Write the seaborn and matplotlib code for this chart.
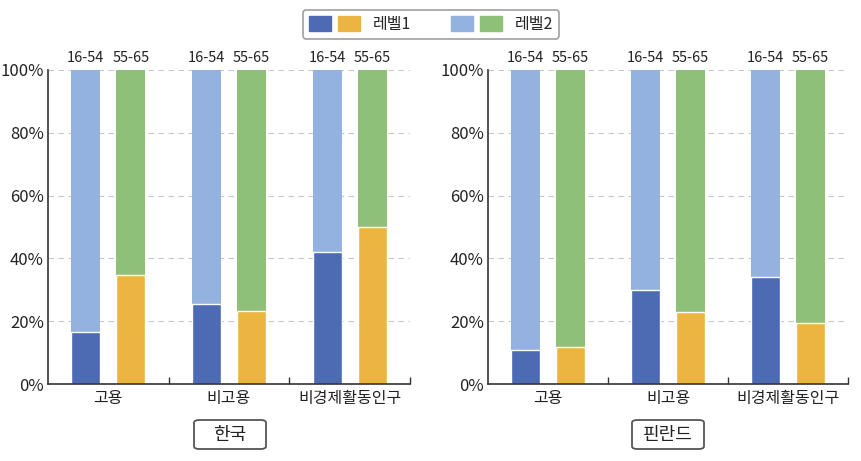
import matplotlib
matplotlib.use("Agg")
import matplotlib.pyplot as plt
import seaborn as sns
import pandas as pd
from matplotlib.patches import Patch, FancyBboxPatch
from matplotlib.legend_handler import HandlerTuple

categories = ["고용", "비고용", "비경제활동인구"]
ages = ["16-54", "55-65"]
korea_level1_1654 = [16.7, 25.5, 42.0]
korea_level1_5565 = [34.6, 23.2, 50.0]
finland_level1_1654 = [10.8, 30.0, 34.0]
finland_level1_5565 = [11.7, 23.0, 19.4]
panel_titles = ["한국", "핀란드"]
yticks = [0, 20, 40, 60, 80, 100]

C_L1 = ["#4d6bb3", "#ebb53f"]
C_L2 = ["#93b2df", "#8fc07a"]

sns.set_theme(style="white")
plt.rcParams["font.family"] = ["Noto Sans CJK KR", "DejaVu Sans"]

W, H = 862, 461
fig = plt.figure(figsize=(W / 100, H / 100), dpi=100)
axes = [fig.add_axes([48/W, 77/H, 362/W, 314/H]),
        fig.add_axes([488/W, 77/H, 360/W, 314/H])]

data = [(korea_level1_1654, korea_level1_5565), (finland_level1_1654, finland_level1_5565)]

for ax, (v1, v2), title in zip(axes, data, panel_titles):
    rows = []
    for i, c in enumerate(categories):
        rows.append({"cat": c, "age": ages[0], "l1": v1[i], "total": 100})
        rows.append({"cat": c, "age": ages[1], "l1": v2[i], "total": 100})
    df = pd.DataFrame(rows)
    sns.barplot(data=df, x="cat", y="total", hue="age", order=categories, hue_order=ages,
                palette=C_L2, width=0.75, gap=0.36, ax=ax, legend=False,
                errorbar=None, linewidth=0, saturation=1, zorder=2)
    sns.barplot(data=df, x="cat", y="l1", hue="age", order=categories, hue_order=ages,
                palette=C_L1, width=0.75, gap=0.36, ax=ax, legend=False,
                errorbar=None, edgecolor="white", linewidth=1.0, saturation=1, zorder=3)
    ax.set_xlim(-0.5, 2.5)
    ax.set_ylim(0, 100)
    ax.set_yticks(yticks)
    ax.set_yticklabels([f"{t}%" for t in yticks], fontsize=12, color="#222222")
    ax.set_xlabel("")
    ax.set_ylabel("")
    ax.tick_params(axis="x", which="major", length=0, labelsize=11.5, pad=4, labelcolor="#222222")
    ax.tick_params(axis="y", length=0, pad=3)
    ax.set_xticks([0.5, 1.5, 2.5], minor=True)
    ax.tick_params(axis="x", which="minor", bottom=True, direction="in", length=5, width=1,
                   color="#333333")
    for y in yticks[1:]:
        ax.axhline(y, color="#c8c8c8", lw=0.8, ls=(0, (5, 4)), zorder=1)
    for s in ["top", "right"]:
        ax.spines[s].set_visible(False)
    for s in ["left", "bottom"]:
        ax.spines[s].set_color("#333333")
        ax.spines[s].set_linewidth(1.2)
        ax.spines[s].set_zorder(5)
    for i in range(len(categories)):
        ax.text(i - 0.1875, 101.5, ages[0], ha="center", va="bottom", fontsize=10.5, color="#222222")
        ax.text(i + 0.1875, 101.5, ages[1], ha="center", va="bottom", fontsize=10.5, color="#222222")
    ax.patch.set_visible(False)

# panel title boxes
for cx, title in zip([230, 668], panel_titles):
    bw, bh = 72, 29
    box = FancyBboxPatch(((cx - bw / 2) / W, (H - 449) / H), bw / W, bh / H,
                         boxstyle="round,pad=0,rounding_size=0.006",
                         transform=fig.transFigure, fc="white", ec="#555555", lw=1.3)
    fig.add_artist(box)
    fig.text(cx / W, (H - 435) / H, title, ha="center", va="center", fontsize=13, color="#222222")

h1 = (Patch(color=C_L1[0]), Patch(color=C_L1[1]))
h2 = (Patch(color=C_L2[0]), Patch(color=C_L2[1]))
leg = fig.legend(handles=[h1, h2], labels=["레벨1", "레벨2"],
                 handler_map={tuple: HandlerTuple(ndivide=None, pad=0.4)},
                 ncol=2, loc="upper center", bbox_to_anchor=(0.5, 0.995),
                 frameon=True, fancybox=True, fontsize=11.5, handlelength=3.2,
                 handleheight=1.1, columnspacing=2.5, borderpad=0.35)
leg.get_frame().set_edgecolor("#888888")
leg.get_frame().set_linewidth(1.2)

fig.savefig("out.png", dpi=100)
